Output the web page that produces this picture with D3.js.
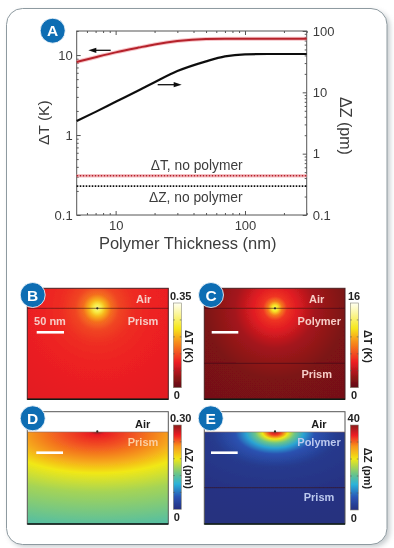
<!DOCTYPE html>
<html><head><meta charset="utf-8">
<script src="https://cdn.jsdelivr.net/npm/d3@7"></script>
<style>html,body{margin:0;padding:0;background:#fff}svg{display:block}text{font-family:"Liberation Sans",Arial,sans-serif}</style>
</head><body><svg id="c" width="394" height="548"></svg>
<script>
// ---- Panel A data ----
const redThickness   = [5,7,10,15,20,30,50,70,100,300];
const redDeltaT      = [8.2,9.4,10.8,12.4,13.6,15,15.9,16,16,16];
const blackThickness = [5,7,10,15,20,30,50,70,100,150,300];
const blackDeltaZ    = [3.4,4.8,7.0,10.7,14.6,22.2,32.0,38.6,41.7,42.2,42.2];
const noPolymerX     = [5,300];
const noPolymerT     = [0.31,0.31];
const noPolymerZ     = [0.296,0.296];
const xTicks = [10,100];
const xMinor = [6,7,8,9,20,30,40,50,60,70,80,90,200,300];
const leftTicks = [0.1,1,10];
const leftMinor = [0.2,0.3,0.4,0.5,0.6,0.7,0.8,0.9,2,3,4,5,6,7,8,9,20];
const rightTicks = [0.1,1,10,100];
const rightMinor = [0.2,0.3,0.4,0.5,0.6,0.7,0.8,0.9,2,3,4,5,6,7,8,9,20,30,40,50,60,70,80,90];
// ---- Colour bars ----
const heatFractions = [0,0.12,0.3,0.55,0.7,0.88,1];
const heatColors    = ["#5f0d12","#8e1518","#ed1c24","#f7941d","#f6e71a","#fbf6a0","#fffff2"];
const jetFractions  = [0,0.15,0.3,0.42,0.6,0.75,0.88,1];
const jetColors     = ["#26307f","#2a55b5","#2bb3d9","#69c48a","#f1e816","#f7941d","#ed1c24","#8a1a1c"];
// ---- Heat maps: distance from the hot spot (px on screen) and value read there ----
const bDist=[0,4,8,14,22,35,60,130];
const bVal =[0.30,0.265,0.215,0.165,0.135,0.118,0.108,0.096];
const cDist=[0,3,7,12,22,40,70,150];
const cVal =[12.8,11.5,8,5.6,4.4,2.6,1.2,0.7];
const dDist=[0,3,15,30,41,60,92,120];
const dVal =[0.30,0.265,0.245,0.215,0.18,0.15,0.118,0.10];
const eDist=[0,3,7,11,16,22,35,60,90];
const eVal =[38,34,24,17,11,5.5,1.6,0.5,0];
const panelMax={B:0.35,C:16,D:0.30,E:40};

const svg=d3.select("#c");
const defs=svg.append("defs");
defs.append("filter").attr("id","soft").attr("x","-5%").attr("y","-5%").attr("width","110%").attr("height","110%")
  .append("feGaussianBlur").attr("stdDeviation",0.5);
const sh=defs.append("filter").attr("id","shadow").attr("x","-5%").attr("y","-5%").attr("width","112%").attr("height","112%");
sh.append("feGaussianBlur").attr("stdDeviation",2.5);

const root=svg.append("g").attr("filter","url(#soft)");
// card
root.append("rect").attr("x",9).attr("y",11).attr("width",381).attr("height",536).attr("rx",16)
  .attr("fill","#9aa3a8").attr("opacity",.55).attr("filter","url(#shadow)");
root.append("rect").attr("x",6.5).attr("y",8.5).attr("width",380.5).attr("height",536).attr("rx",16)
  .attr("fill","#fff").attr("stroke","#8e9aa0").attr("stroke-width",1);

// ---- Panel A ----
const x=d3.scaleLog().domain([5,300]).range([76.7,306.7]);
const yL=d3.scaleLog().domain([0.1,20]).range([215,31]);
const yR=d3.scaleLog().domain([0.1,100]).range([215,31]);
const axisColor="#555", labelColor="#3c3c3c";
function styleAxis(g){g.selectAll("path").attr("stroke",axisColor).attr("stroke-width",1);
  g.selectAll("line").attr("stroke",axisColor);g.selectAll("text").attr("fill",labelColor).attr("font-size",13);}
root.append("rect").attr("x",76.7).attr("y",31).attr("width",230).attr("height",184).attr("fill","none").attr("stroke",axisColor);
const A=root.append("g");
function minor(g,axisFn,scale,vals,tf){
  g.append("g").attr("transform",tf).call(axisFn(scale).tickValues(vals.filter(v=>v>=scale.domain()[0]&&v<=scale.domain()[1])).tickSize(-2).tickFormat("")).call(styleAxis);
}
const fmt=d=>String(d);
A.append("g").attr("transform","translate(0,215)").call(d3.axisBottom(x).tickValues(xTicks).tickSize(-4).tickPadding(6).tickFormat(fmt)).call(styleAxis);
A.append("g").attr("transform","translate(0,31)").call(d3.axisTop(x).tickValues(xTicks).tickSize(-4).tickFormat("")).call(styleAxis);
A.append("g").attr("transform","translate(76.7,0)").call(d3.axisLeft(yL).tickValues(leftTicks).tickSize(-4).tickPadding(4).tickFormat(fmt)).call(styleAxis);
A.append("g").attr("transform","translate(306.7,0)").call(d3.axisRight(yR).tickValues(rightTicks).tickSize(-4).tickPadding(6).tickFormat(fmt)).call(styleAxis);
minor(A,d3.axisBottom,x,xMinor,"translate(0,215)");
minor(A,d3.axisTop,x,xMinor,"translate(0,31)");
minor(A,d3.axisLeft,yL,leftMinor,"translate(76.7,0)");
minor(A,d3.axisRight,yR,rightMinor,"translate(306.7,0)");
A.selectAll(".domain").attr("stroke","none");

const lineOf=(xs,ys,sy)=>d3.line().curve(d3.curveMonotoneX).x((d,i)=>x(xs[i])).y((d,i)=>sy(ys[i]))(ys);
A.append("path").attr("d",lineOf(redThickness,redDeltaT,yL)).attr("fill","none").attr("stroke","#ee8f98").attr("stroke-width",4).attr("opacity",.55);
A.append("path").attr("d",lineOf(redThickness,redDeltaT,yL)).attr("fill","none").attr("stroke","#b5202b").attr("stroke-width",2);
A.append("path").attr("d",lineOf(blackThickness,blackDeltaZ,yR)).attr("fill","none").attr("stroke","#111").attr("stroke-width",2.2);
A.append("path").attr("d",lineOf(noPolymerX,noPolymerT,yL)).attr("fill","none").attr("stroke","#f2a8ae").attr("stroke-width",3.4).attr("opacity",.7);
A.append("path").attr("d",lineOf(noPolymerX,noPolymerT,yL)).attr("fill","none").attr("stroke","#b5202b").attr("stroke-width",1.6).attr("stroke-dasharray","1.6 1.4");
A.append("path").attr("d",lineOf(noPolymerX,noPolymerZ,yR)).attr("fill","none").attr("stroke","#111").attr("stroke-width",1.8).attr("stroke-dasharray","1.6 1.4");

function arrow(x1,x2,y){
  const d=Math.sign(x2-x1);
  A.append("line").attr("x1",x1).attr("x2",x2-d*5).attr("y1",y).attr("y2",y).attr("stroke","#111").attr("stroke-width",1.3);
  A.append("path").attr("d",`M${x2},${y}L${x2-d*8},${y-2.6}L${x2-d*8},${y+2.6}Z`).attr("fill","#111");
}
arrow(110.7,88.3,50.3);
arrow(157.7,181.7,84.7);

function label(g,t,px,py,size,fill,weight,rot){
  const e=g.append("text").attr("text-anchor","middle").attr("dominant-baseline","central")
    .attr("font-size",size).attr("fill",fill).attr("font-weight",weight||"normal").text(t);
  e.attr("transform",`translate(${px},${py})`+(rot?` rotate(${rot})`:""));
  return e;
}
label(root,"\u0394T, no polymer",196.7,165,13.8,labelColor);
label(root,"\u0394Z, no polymer",195.7,197.7,13.8,labelColor);
label(root,"Polymer Thickness (nm)",187.7,243,16.5,labelColor);
label(root,"\u0394T (K)",43,122.7,15.5,labelColor,"normal",-90);
label(root,"\u0394Z (pm)",345,126,16,labelColor,"normal",90);

// ---- Heat map panels ----
const heat=d3.scaleLinear().domain(heatFractions).range(heatColors).interpolate(d3.interpolateRgb);
const jet=d3.scaleLinear().domain(jetFractions).range(jetColors).interpolate(d3.interpolateRgb);

function panel(o){
  const id=o.id, max=panelMax[id], color=v=>o.scale(v/max);
  const rad=d3.max(o.dist);
  const g=defs.append("radialGradient").attr("id","grad"+id).attr("gradientUnits","userSpaceOnUse")
    .attr("cx",0).attr("cy",0).attr("r",rad)
    .attr("gradientTransform",`translate(${o.cx},${o.cy}) scale(${o.aspect},1)`);
  o.dist.forEach((d,i)=>g.append("stop").attr("offset",d/rad).attr("stop-color",color(o.val[i])));
  const p=root.append("g");
  const fieldTop=o.airWhite?o.cy:o.top;
  p.append("rect").attr("x",o.left).attr("y",o.top).attr("width",o.right-o.left).attr("height",o.bottom-o.top)
    .attr("fill","#fff");
  p.append("rect").attr("x",o.left).attr("y",fieldTop).attr("width",o.right-o.left).attr("height",o.bottom-fieldTop)
    .attr("fill",`url(#grad${id})`);
  p.append("rect").attr("x",o.left).attr("y",o.top).attr("width",o.right-o.left).attr("height",o.bottom-o.top)
    .attr("fill","none").attr("stroke",o.airWhite?"#555":"#4a2020").attr("stroke-width",1);
  p.append("line").attr("x1",o.left).attr("x2",o.right).attr("y1",o.bottom).attr("y2",o.bottom)
    .attr("stroke","#0a1a14").attr("stroke-width",1.6);
  o.lines.forEach(y=>p.append("line").attr("x1",o.left).attr("x2",o.right).attr("y1",y).attr("y2",y)
    .attr("stroke",o.airWhite&&y===o.cy?"#8a6a60":"#3a0d10").attr("stroke-width",.8).attr("opacity",.75));
  p.append("circle").attr("cx",o.cx).attr("cy",o.cy-(o.airWhite?0.6:0)).attr("r",1.1).attr("fill","#2a2a20");
  p.append("line").attr("x1",o.bar[0]).attr("x2",o.bar[1]).attr("y1",o.bar[2]).attr("y2",o.bar[2])
    .attr("stroke","#fff").attr("stroke-width",2.6);
  o.texts.forEach(t=>label(p,t[0],t[1],t[2],t[3]||11,t[4],"bold"));
  // colour bar
  const cbar=d3.scaleLinear().domain([0,max]).range([o.cb[3],o.cb[2]]);
  const lg=defs.append("linearGradient").attr("id","cb"+id).attr("x1",0).attr("x2",0).attr("y1",1).attr("y2",0);
  o.fr.forEach(f=>lg.append("stop").attr("offset",f).attr("stop-color",o.scale(f)));
  p.append("rect").attr("x",o.cb[0]).attr("y",o.cb[2]).attr("width",o.cb[1]-o.cb[0]).attr("height",o.cb[3]-o.cb[2])
    .attr("fill",`url(#cb${id})`).attr("stroke","#8a8a7a").attr("stroke-width",.6);
  const tv=d3.range(1,5).map(k=>max*k/5);
  p.selectAll(null).data(tv).join("line").attr("x1",o.cb[0]).attr("x2",o.cb[0]+1.5).attr("y1",cbar).attr("y2",cbar).attr("stroke","#555").attr("stroke-width",.6);
  p.selectAll(null).data(tv).join("line").attr("x1",o.cb[1]-1.5).attr("x2",o.cb[1]).attr("y1",cbar).attr("y2",cbar).attr("stroke","#555").attr("stroke-width",.6);
  label(p,o.maxLabel,o.maxX,o.cb[2]-7.5,11,"#222","bold");
  label(p,"0",o.zeroX,o.cb[3]+7.5,11,"#222","bold");
  label(p,o.unit,o.unitX,(o.cb[2]+o.cb[3])/2+1,11,"#222","bold",90);
  const b=root.append("g");
  b.append("circle").attr("cx",o.badge[0]).attr("cy",o.badge[1]).attr("r",12.5).attr("fill","#0f6db3").attr("stroke","#fff").attr("stroke-width",.8);
  label(b,id,o.badge[0],o.badge[1],15.5,"#fff","bold");
}
const pale="#f6cdc6";
panel({id:"B",left:27.3,right:168.3,top:288.3,bottom:399.3,cx:97.3,cy:308.3,aspect:1,dist:bDist,val:bVal,scale:heat,fr:heatFractions,
  lines:[308.3],bar:[36.7,64,332.3],cb:[173.3,181.3,303,387.7],maxLabel:"0.35",maxX:180.7,zeroX:176.7,unit:"\u0394T (K)",unitX:189,badge:[32.7,295],
  texts:[["Air",143.7,299.3,11,pale],["Prism",143,320.7,11,pale],["50 nm",50,321,11,pale]]});
panel({id:"C",left:204.3,right:345,top:288.3,bottom:399.3,cx:275,cy:308.3,aspect:1,dist:cDist,val:cVal,scale:heat,fr:heatFractions,
  lines:[308.3,363.3],bar:[211.7,238.3,332.3],cb:[350.3,358.3,303,387.7],maxLabel:"16",maxX:354,zeroX:354,unit:"\u0394T (K)",unitX:367.7,badge:[211,295],
  texts:[["Air",316.7,299.3,11,pale],["Polymer",319.3,320.7,11,pale],["Prism",316.7,374,11,pale]]});
panel({id:"D",airWhite:true,left:27.3,right:168.3,top:411.7,bottom:524,cx:97.3,cy:432,aspect:2.5,dist:dDist,val:dVal,scale:jet,fr:jetFractions,
  lines:[432],bar:[36.3,63,452.7],cb:[173.3,181.3,425,509.3],maxLabel:"0.30",maxX:180.7,zeroX:176.7,unit:"\u0394Z (pm)",unitX:189,badge:[32.7,418.3],
  texts:[["Air",142.7,424.3,11,"#1a1a1a"],["Prism",143,441.7,11,"#fbd0a0"]]});
panel({id:"E",airWhite:true,left:204.3,right:345,top:411.7,bottom:524,cx:275,cy:432,aspect:1.8,dist:eDist,val:eVal,scale:jet,fr:jetFractions,
  lines:[432,487.7],bar:[211,237.7,452.7],cb:[350.3,358.3,425,510],maxLabel:"40",maxX:353.7,zeroX:353.7,unit:"\u0394Z (pm)",unitX:367.7,badge:[210.7,418.3],
  texts:[["Air",319,424.3,11,"#1a1a1a"],["Polymer",319,441.7,11,"#bcc9ee"],["Prism",319,496.7,11,"#bcc9ee"]]});
// Badge A
const ba=root.append("g");
ba.append("circle").attr("cx",52.7).attr("cy",30.7).attr("r",12.5).attr("fill","#0f6db3").attr("stroke","#fff").attr("stroke-width",.8);
label(ba,"A",52.7,30.7,15.5,"#fff","bold");
</script></body></html>
